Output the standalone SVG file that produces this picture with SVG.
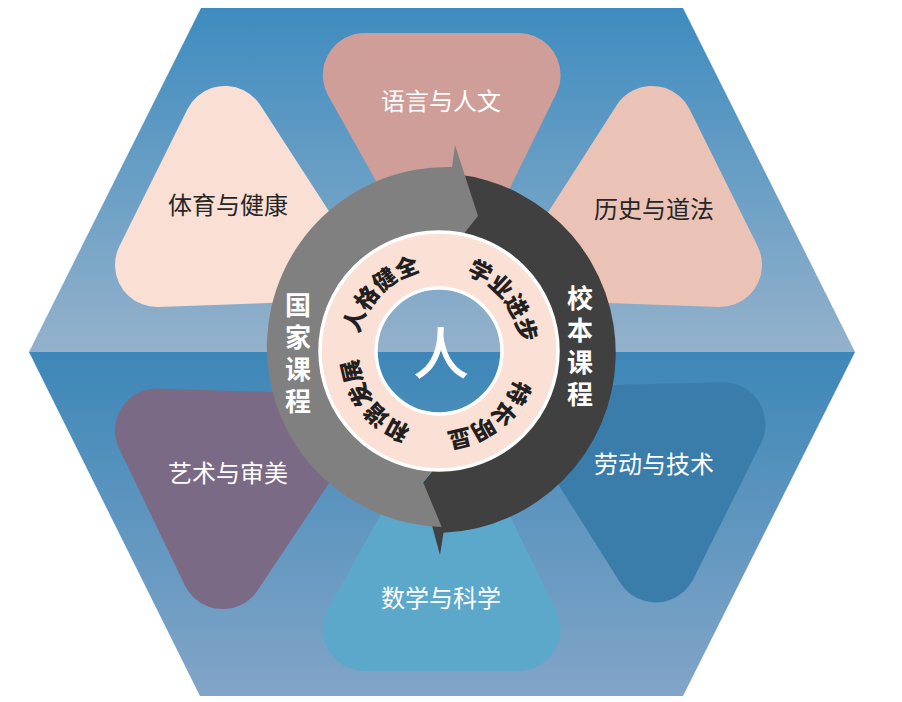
<svg xmlns="http://www.w3.org/2000/svg" width="902" height="702" viewBox="0 0 902 702">
<defs>
<linearGradient id="gTop" x1="0" y1="8" x2="0" y2="352" gradientUnits="userSpaceOnUse">
<stop offset="0" stop-color="#3e8cbf"/><stop offset="1" stop-color="#94b1cb"/>
</linearGradient>
<linearGradient id="gBot" x1="0" y1="352" x2="0" y2="696" gradientUnits="userSpaceOnUse">
<stop offset="0" stop-color="#3d87b8"/><stop offset="1" stop-color="#82a5c7"/>
</linearGradient>
<path id="textCircle" d="M 520.4,351 A 81.4 81.4 0 1 1 357.6,351 A 81.4 81.4 0 1 1 520.4,351"/>
</defs>
<style>
.tri{stroke-width:84;stroke-linejoin:round}
.lbl{font-family:"Noto Sans CJK SC","Noto Sans CJK JP",sans-serif;font-size:24px;text-anchor:middle;dominant-baseline:central}
.dark{fill:#262626}
.white{fill:#ffffff}
.vert{font-family:"Noto Sans CJK SC","Noto Sans CJK JP",sans-serif;font-size:26px;font-weight:bold;fill:#ffffff;text-anchor:middle;writing-mode:vertical-rl;letter-spacing:6px}
.arc{font-family:"Noto Sans CJK SC","Noto Sans CJK JP",sans-serif;font-size:23px;font-weight:900;fill:#231f20;text-anchor:middle}
</style>

<g id="background">
<polygon points="201,8 683,8 855,352 29,352" fill="url(#gTop)"/>
<polygon points="29,352 855,352 683,696 200,696" fill="url(#gBot)"/>
</g>

<g id="node-yuyan">
<polygon class="tri" points="364.8,75 518.6,75 446.8,221.5" fill="#cf9e98" stroke="#cf9e98"/>
<text class="lbl white" x="441" y="99">语言与人文</text>
</g>
<g id="node-tiyu">
<polygon class="tri" points="157,265 225,127.9 310.2,259.5" fill="#f9dfd4" stroke="#f9dfd4"/>
<text class="lbl dark" x="228" y="203">体育与健康</text>
</g>
<g id="node-lishi">
<polygon class="tri" points="720,265 652,127.9 567.8,259.5" fill="#eac3b6" stroke="#eac3b6"/>
<text class="lbl dark" x="654" y="207">历史与道法</text>
</g>
<g id="node-yishu">
<polygon class="tri" points="157,430.4 222.7,567.1 310.2,435.5" fill="#7b6a86" stroke="#7b6a86"/>
<text class="lbl white" x="228" y="471">艺术与审美</text>
</g>
<g id="node-laodong">
<polygon class="tri" points="572.5,428.1 723.5,424.2 655.8,560.4" fill="#3a7daa" stroke="#3a7daa"/>
<text class="lbl white" x="654" y="462">劳动与技术</text>
</g>
<g id="node-shuxue">
<polygon class="tri" points="364.8,629 518.6,629 446.8,482.5" fill="#5ca8cb" stroke="#5ca8cb"/>
<text class="lbl white" x="441" y="596">数学与科学</text>
</g>

<g id="connectors">
<path id="arrow-xiaoben" d="M 455,174 A 180 180 0 0 1 443.5,532.8 L 440,555 L 421,485 L 436,467 L 439,464 A 113 113 0 0 0 552,351 A 113 113 0 0 0 450,238.5 Z" fill="#404040"/>
<path id="arrow-guojia" d="M 441.7,527 A 180 180 0 0 1 452,167 L 455,145 L 478,216 L 462,236 L 439,238 A 113 113 0 0 0 326,351 A 113 113 0 0 0 439,464 L 436,466 L 423,482 Z" fill="#808080"/>
</g>

<g id="node-core">
<path d="M 558,351 A 119 119 0 1 0 320,351 A 119 119 0 1 0 558,351 Z M 502,351 A 63 63 0 1 1 376,351 A 63 63 0 1 1 502,351 Z" fill="#fae0d5" fill-rule="evenodd"/>
<circle cx="439" cy="351" r="119" fill="none" stroke="#ffffff" stroke-width="3.5"/>
<circle cx="439" cy="351" r="63" fill="none" stroke="#ffffff" stroke-width="3.5"/>
<text x="441" y="349" font-family="Noto Sans CJK SC, Noto Sans CJK JP, sans-serif" font-size="56" font-weight="500" fill="#ffffff" text-anchor="middle" dominant-baseline="central">人</text>
<text class="arc"><textPath href="#textCircle" startOffset="318.5">人格健全</textPath></text>
<text class="arc"><textPath href="#textCircle" startOffset="456.5">学业进步</textPath></text>
<text class="arc"><textPath href="#textCircle" startOffset="74">特长明显</textPath></text>
<text class="arc"><textPath href="#textCircle" startOffset="202">和谐发展</textPath></text>
</g>

<g id="label-guojia">
<text class="vert" x="298" y="356">国家课程</text>
</g>
<g id="label-xiaoben">
<text class="vert" x="580" y="349">校本课程</text>
</g>
</svg>
